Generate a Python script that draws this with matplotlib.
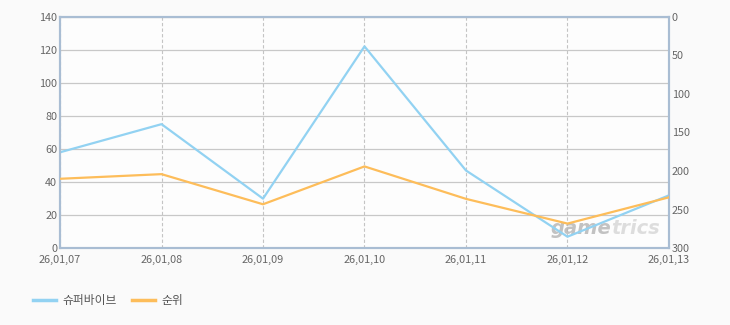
import matplotlib.pyplot as plt
from matplotlib.lines import Line2D

plt.rcParams['font.family'] = ['Noto Sans CJK KR', 'DejaVu Sans']

# 데이터
dates = ['26,01,07', '26,01,08', '26,01,09', '26,01,10', '26,01,11', '26,01,12', '26,01,13']
viewers = [58, 75, 30, 122, 47, 7, 32]          # 슈퍼바이브 (left axis)
rank = [210, 204, 243, 194, 236, 268, 234]      # 순위 (right axis, inverted)

blue = '#92d2f2'
orange = '#fdbd5a'
frame = '#a9bdd3'
tick_col = '#666666'

fig = plt.figure(figsize=(7.3, 3.25), dpi=100)
fig.patch.set_facecolor('#fafafa')
ax = fig.add_axes([0.0822, 0.236, 0.8342, 0.713])
ax.set_facecolor('#fdfdfd')
x = list(range(len(dates)))

ax.plot(x, viewers, color=blue, linewidth=1.6, zorder=3)
ax.set_xlim(0, len(dates) - 1)
ax.set_ylim(0, 140)
ax.set_yticks(range(0, 141, 20))
ax.set_xticks(x)
ax.set_xticklabels(dates)
ax.grid(axis='y', color='#c8c8c8', linewidth=0.9)
ax.grid(axis='x', color='#c4c4c4', linewidth=0.8, linestyle=(0, (3, 2)))
ax.set_axisbelow(True)

ax2 = ax.twinx()
ax2.plot(x, rank, color=orange, linewidth=1.6, zorder=3)
ax2.set_ylim(300, 0)
ax2.set_yticks(range(0, 301, 50))

for a in (ax, ax2):
    for s in a.spines.values():
        s.set_color(frame)
        s.set_linewidth(1.5)
    a.tick_params(length=0, labelsize=7.8, colors=tick_col, pad=2)
ax.tick_params(axis='x', pad=5)

# 워터마크
ax.text(0.905, 0.085, 'game', transform=ax.transAxes, fontsize=14, fontweight='bold',
        style='italic', color='#b4b4b4', alpha=0.8, ha='right', va='center',
        family='DejaVu Sans', zorder=2)
ax.text(0.905, 0.085, 'trics', transform=ax.transAxes, fontsize=14, fontweight='bold',
        style='italic', color='#d6d6d6', alpha=0.8, ha='left', va='center',
        family='DejaVu Sans', zorder=2)

handles = [Line2D([], [], color=blue, linewidth=2.5), Line2D([], [], color=orange, linewidth=2.5)]
fig.legend(handles, ['슈퍼바이브', '순위'], loc='center left', bbox_to_anchor=(0.03, 0.075),
           ncol=2, frameon=False, fontsize=8.5, handlelength=2.0, handletextpad=0.5,
           columnspacing=1.3, labelcolor='#555555')

fig.savefig('out.png', dpi=100, facecolor=fig.get_facecolor())
